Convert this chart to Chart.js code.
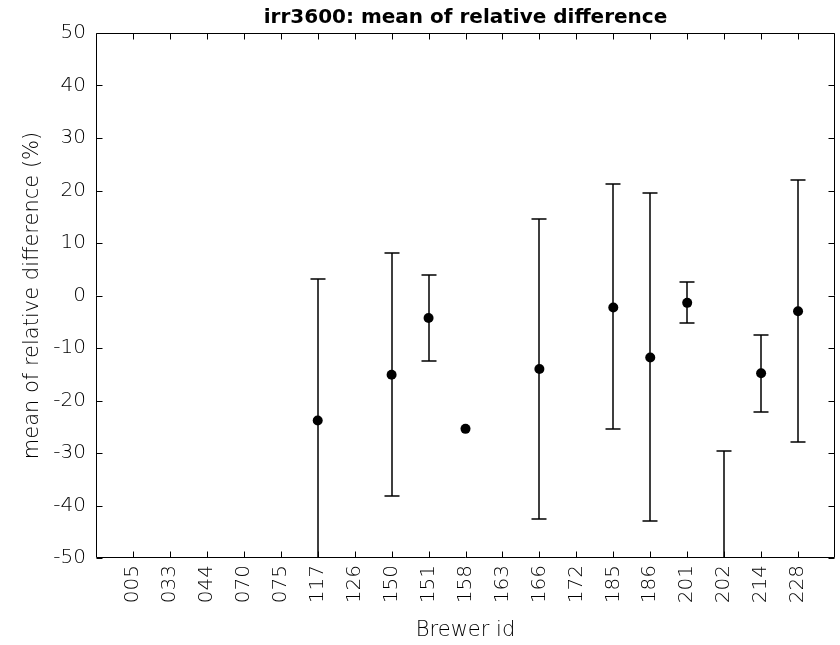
<!DOCTYPE html>
<html>
<head>
<meta charset="utf-8">
<script src="https://cdn.jsdelivr.net/npm/chart.js@4/dist/chart.umd.min.js"></script>
<style>
html,body{margin:0;padding:0;background:#fff;}
#wrap{width:840px;height:645px;}
</style>
</head>
<body>
<div id="wrap"><canvas id="c" width="840" height="645"></canvas></div>
<script>
// ---- data ----
const brewerIds = ['005','033','044','070','075','117','126','150','151','158','163','166','172','185','186','201','202','214','228'];
const means     = [null, null, null, null, null, -23.8, null, -15.1, -4.3, -25.4, null, -14.0, null, -2.3, -11.8, -1.4, -62.0, -14.8, -3.0];
const upperEnds = [null, null, null, null, null,   3.1, null,   8.1,  3.9,  null, null,  14.5, null, 21.2,  19.5,  2.5, -29.7,  -7.5, 22.0];
const lowerEnds = [null, null, null, null, null, -50.7, null, -38.1,-12.4,  null, null, -42.6, null,-25.4, -43.0, -5.2, -94.0, -22.2,-27.9];
const yTickValues = [-50, -40, -30, -20, -10, 0, 10, 20, 30, 40, 50];

const FONT = 'DejaVu Sans';

const points = [];
brewerIds.forEach((id, i) => { if (means[i] !== null) points.push({x: i + 1, y: means[i]}); });

const matlabPlugin = {
  id: 'matlabPlugin',
  beforeDatasetsDraw(chart) {
    const {ctx, chartArea: ca} = chart;
    const xs = chart.scales.x, ys = chart.scales.y;
    ctx.save();
    ctx.beginPath();
    ctx.rect(ca.left, ca.top, ca.right - ca.left, ca.bottom - ca.top);
    ctx.clip();
    ctx.strokeStyle = '#000';
    ctx.lineWidth = 1.5;
    const cap = 7.5;
    brewerIds.forEach((id, i) => {
      if (upperEnds[i] === null || lowerEnds[i] === null) return;
      const px = Math.round(xs.getPixelForValue(i + 1));
      const pu = Math.round(ys.getPixelForValue(upperEnds[i]));
      const pl = Math.round(ys.getPixelForValue(lowerEnds[i]));
      ctx.beginPath();
      ctx.moveTo(px, pu); ctx.lineTo(px, pl);
      ctx.moveTo(px - cap, pu); ctx.lineTo(px + cap, pu);
      ctx.moveTo(px - cap, pl); ctx.lineTo(px + cap, pl);
      ctx.stroke();
    });
    ctx.restore();
  },
  afterDraw(chart) {
    const {ctx, chartArea: ca} = chart;
    const xs = chart.scales.x, ys = chart.scales.y;
    const L = Math.round(ca.left) + 0.5, R = Math.round(ca.right) - 0.5;
    const T = Math.round(ca.top) + 0.5, B = Math.round(ca.bottom) - 0.5;
    const tl = 6;
    ctx.save();
    ctx.strokeStyle = '#000';
    ctx.lineWidth = 1;
    ctx.beginPath();
    ctx.rect(L, T, R - L, B - T);
    yTickValues.forEach(v => {
      const y = Math.round(ys.getPixelForValue(v)) + 0.5;
      ctx.moveTo(L, y); ctx.lineTo(L + tl, y);
      ctx.moveTo(R, y); ctx.lineTo(R - tl, y);
    });
    brewerIds.forEach((id, i) => {
      const x = Math.round(xs.getPixelForValue(i + 1)) + 0.5;
      ctx.moveTo(x, B); ctx.lineTo(x, B - tl);
      ctx.moveTo(x, T); ctx.lineTo(x, T + tl);
    });
    ctx.stroke();
    ctx.restore();
  }
};

Chart.defaults.color = '#000';
Chart.defaults.font.family = FONT;

const tickFont = {family: FONT, size: 20, weight: '300'};
const labelFont = {family: FONT, size: 21, weight: '300'};

new Chart(document.getElementById('c'), {
  type: 'scatter',
  data: {
    datasets: [{
      data: points,
      pointStyle: 'circle',
      pointRadius: 5,
      pointHoverRadius: 5,
      backgroundColor: '#000',
      borderColor: '#000',
      borderWidth: 0,
      showLine: false,
      clip: 0
    }]
  },
  options: {
    responsive: false,
    animation: false,
    devicePixelRatio: 1,
    layout: {padding: {left: 0, right: 2, top: 0, bottom: 0}},
    plugins: {
      legend: {display: false},
      tooltip: {enabled: false},
      title: {
        display: true,
        fullSize: false,
        text: 'irr3600: mean of relative difference',
        color: '#000',
        font: {family: FONT, size: 20, weight: 'bold', lineHeight: 1.2},
        padding: {top: 6, bottom: 3}
      }
    },
    scales: {
      x: {
        type: 'linear',
        position: 'bottom',
        min: 0,
        max: brewerIds.length + 1,
        afterBuildTicks: s => { s.ticks = brewerIds.map((id, i) => ({value: i + 1})); },
        afterFit: s => { s.height = 87; },
        ticks: {
          autoSkip: false,
          minRotation: 90,
          maxRotation: 90,
          padding: 7,
          color: '#000',
          font: tickFont,
          callback: v => brewerIds[v - 1] || ''
        },
        grid: {display: false, drawTicks: false, tickLength: 0},
        border: {display: false},
        title: {
          display: true,
          text: 'Brewer id',
          color: '#000',
          font: labelFont,
          padding: {top: 0, bottom: 2}
        }
      },
      y: {
        type: 'linear',
        min: -50,
        max: 50,
        afterBuildTicks: s => { s.ticks = yTickValues.map(v => ({value: v})); },
        afterFit: s => { s.width = 96; },
        ticks: {
          padding: 10,
          color: '#000',
          font: tickFont,
          callback: v => String(v)
        },
        grid: {display: false, drawTicks: false, tickLength: 0},
        border: {display: false},
        title: {
          display: true,
          text: 'mean of relative difference (%)',
          color: '#000',
          font: labelFont,
          padding: {top: 20, bottom: 0}
        }
      }
    }
  },
  plugins: [matlabPlugin]
});
</script>
</body>
</html>
